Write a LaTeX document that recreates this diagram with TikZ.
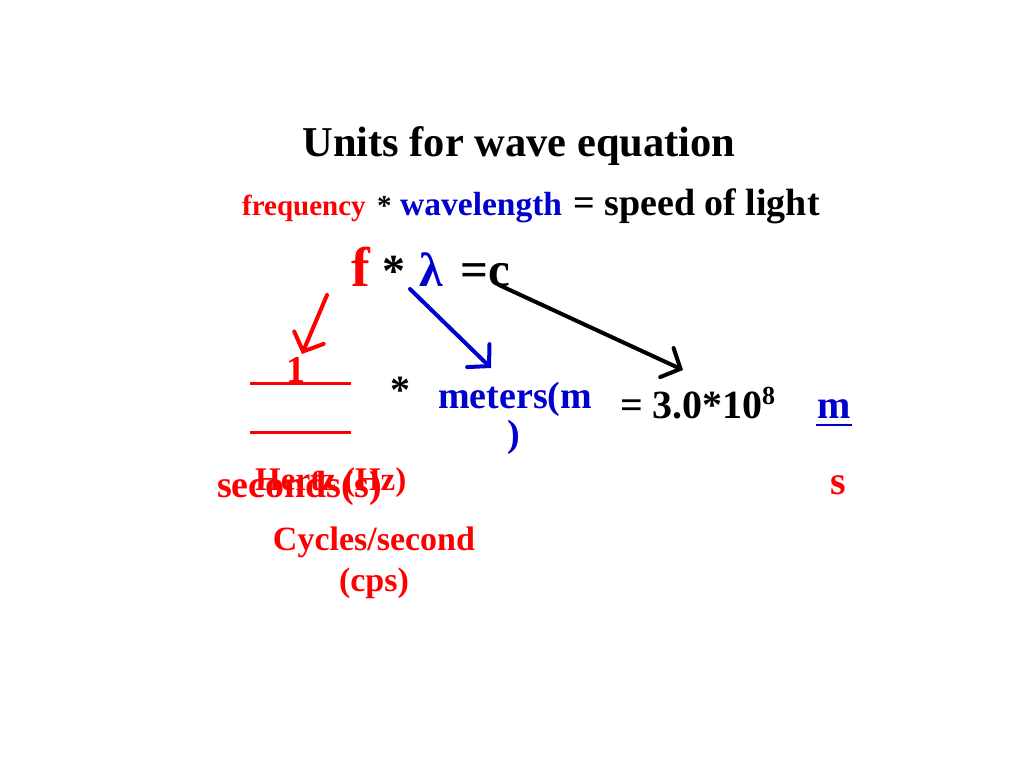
\documentclass[tikz,border=0pt]{standalone}
\usepackage{fontspec}
\setmainfont{Liberation Serif}
\usetikzlibrary{arrows.meta}
\definecolor{myred}{RGB}{255,0,0}
\definecolor{myblue}{RGB}{0,0,204}
\newcommand{\fs}[1]{\fontsize{#1}{#1}\selectfont\bfseries}
\tikzset{
  txt/.style={inner sep=0pt, anchor=base west},
  txtc/.style={inner sep=0pt, anchor=base},
  arr/.style={line width=4pt, line cap=round, -{Straight Barb[length=15pt,width=32pt,line cap=round]}},
  bar/.style={line width=3pt, myred}
}
\begin{document}
\begin{tikzpicture}[x=1pt,y=-1pt]
\useasboundingbox (0,0) rectangle (1024,768);
\fill[white] (0,0) rectangle (1024,768);
% title
\node[txtc] (title) at (519,156) {\fs{42.5}Units for wave equation};
% line 2
\node[txt] (freq) at (242,215) {\fs{29}\textcolor{myred}{frequency}};
\node[txt] (st2) at (377,215) {\fs{29}*};
\node[txt] (wl) at (400,215) {\fs{33.5}\textcolor{myblue}{wavelength}};
\node[txt] (sol) at (573,215) {\fs{38}= speed of light};
% line 3
\node[txt] (f) at (351,286) {\fs{56}\textcolor{myred}{f}};
\node[txt] (st3) at (382,286) {\fs{46}*};
\node[txt] (lam) at (419,286) {\fs{48}\textcolor{myblue}{λ}};
\node[txt] (eqc) at (460,286) {\fs{49}=c};
\coordinate (fs) at (327,295);
\coordinate (fe) at (302,354);
\coordinate (ls) at (410,289);
\coordinate (le) at (491,368);
\coordinate (cs) at (499,285);
\coordinate (ce) at (683,370);
% left fraction
\node[txtc] (one) at (296,382) {\fs{38}\textcolor{myred}{1}};
\coordinate (b1a) at (250,383); \coordinate (b1b) at (351,383);
\coordinate (b2a) at (250,432); \coordinate (b2b) at (351,432);
\draw[bar] (b1a) -- (b1b);
\draw[bar] (b2a) -- (b2b);
\node[txt] (sec) at (217,497) {\fs{38}\textcolor{myred}{seconds(s)}};
\node[txt] (hz) at (255,490) {\fs{33}\textcolor{myred}{Hertz (Hz)}};
\node[txtc] (cyc) at (374,550) {\fs{34}\textcolor{myred}{Cycles/second}};
\node[txtc] (cps) at (374,591) {\fs{34}\textcolor{myred}{(cps)}};
% star
\node[txt] (star) at (390,403) {\fs{40}*};
% meters
\node[txt] (met) at (438,408) {\fs{38}\textcolor{myblue}{meters(m}};
\node[txtc] (par) at (514,446) {\fs{38}\textcolor{myblue}{)}};
% value
\node[txt] (eqv) at (620,418) {\fs{40}=};
\node[txt] (val) at (652,418) {\fs{40}3.0*10\raisebox{14pt}{\fs{26}8}};
\node[txtc] (m) at (834,418) {\fs{40}\textcolor{myblue}{m}};
\coordinate (ua) at (816,425); \coordinate (ub) at (852,425);
\draw[myblue, line width=2.5pt] (ua) -- (ub);
\node[txtc] (s) at (838,494) {\fs{40}\textcolor{myred}{s}};
% arrows
\draw[arr, myred] (fs) -- (fe);
\draw[arr, myblue] (ls) -- (le);
\draw[arr, black] (cs) -- (ce);
\end{tikzpicture}
\end{document}
